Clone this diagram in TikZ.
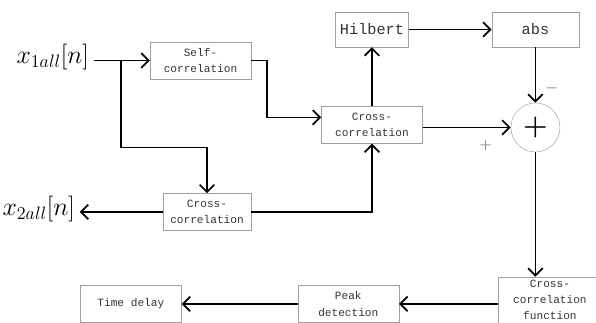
\RequirePackage{fix-cm}
\documentclass[tikz,border=0pt]{standalone}
\usepackage{fontspec}
\setmonofont{Liberation Mono}
\usepackage{tikz}
\usetikzlibrary{positioning}
\usetikzlibrary{arrows.meta,shapes}

\begin{document}
\begin{tikzpicture}[node distance=1.8cm,
    box node/.style={rectangle,draw=gray!75,text=black!80,align=center,inner sep=0pt,
        font=\ttfamily\fontsize{9.5}{14}\selectfont,minimum width=3.03cm,minimum height=1.11cm},
    big box/.style={box node,font=\ttfamily\fontsize{13}{15}\selectfont,minimum height=1.05cm},
    sig node/.style={inner sep=4pt,font=\fontsize{22}{26}\selectfont},
    sum node/.style={circle,draw=gray!75,minimum size=1.47cm,inner sep=0pt},
    sign/.style={inner sep=0pt,text=black!65,font=\fontsize{14}{16}\selectfont},
    wire/.style={line width=1.5pt},
    arrow wire/.style={wire,-{Straight Barb[length=2.2mm,width=4.4mm]}}]

    \useasboundingbox (0,0) rectangle (17.88,-9.66);
    \clip (0,0) rectangle (17.88,-9.66);

		\node[box node](2) at (6.015,-1.815){Self-\\correlation};
		\node[sig node](1)[left = 1.68cm of 2, yshift=0.09cm]{$x_{1all}[n]$};
		\node[box node](3)[below right = 0.81cm and 2.1cm of 2]{Cross-\\correlation};
		\node[big box][minimum width=2.19cm](4)[above = 1.77cm of 3]{Hilbert};
		\node[big box][minimum width=2.61cm](5)[right = 2.49cm of 4]{abs};
		\node[sum node](6)[below = 1.665cm of 5]{\fontsize{24}{26}\selectfont\textbf{+}};
		\node[box node][minimum width=2.64cm](7)[below = 3.42cm of 2, xshift=0.195cm]{Cross-\\correlation};
		\node[sig node](8)[left = 2.49cm of 7, yshift=0.09cm]{$x_{2all}[n]$};
		\node[box node][minimum width=3.1cm,minimum height=1.38cm,font=\ttfamily\fontsize{9.5}{13.5}\selectfont](9)[below = 3.735cm of 6, xshift=0.435cm]{Cross-\\correlation\\function};
		\node[box node](10)[left = 2.97cm of 9, yshift=-0.12cm]{Peak\\detection};
		\node[box node](11)[left = 3.48cm of 10]{Time delay};
		\coordinate[left = 0.87cm of 2.west](12);

		\draw [arrow wire] (1.east |- 2.west) -- (2.west);
		\draw [arrow wire] (12) -- ++(0,-2.61) -| (7.north);
		\draw [arrow wire] (2.east) -- ++(0.48,0) |- ([yshift=0.225cm]3.west);
		\draw [arrow wire] (7.west) -- (7.west -| 8.east);
		\draw [arrow wire] (7.east) -| (3.south);
		\path [arrow wire] (3) edge (4);
		\path [arrow wire] (4) edge (5);
		\path [arrow wire] (5) edge node[sign, right = 0.27cm, pos=0.74] {$-$} (6);
		\path [arrow wire] (3.east |- 6.west) edge node[sign, below = 0.35cm, pos=0.716] {$+$} (6.west);
		\draw [arrow wire] (6.south) -- (6.south |- 9.north);
		\path [arrow wire] (9.west |- 10.east) edge (10.east);
		\path [arrow wire] (10) edge (11);

\end{tikzpicture}
\end{document}
